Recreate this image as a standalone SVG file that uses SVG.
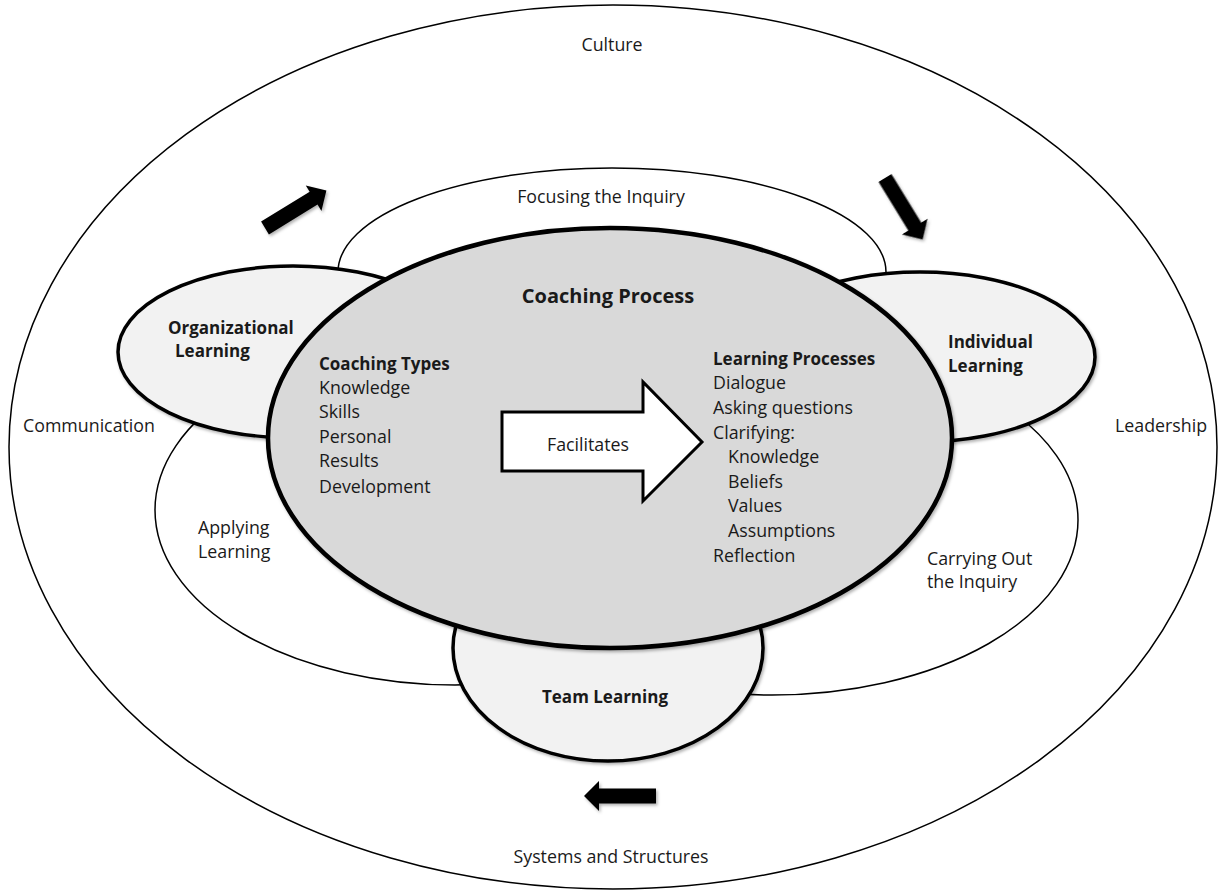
<svg xmlns="http://www.w3.org/2000/svg" width="1219" height="894" viewBox="0 0 1219 894">
  <style>
    .t { font-family: "Open Sans", "Liberation Sans", sans-serif; font-size: 17.8px; fill: #1a1a1a; }
    .b { font-weight: bold; font-size: 17px; }
    .c { text-anchor: middle; }
    .ring { fill: #ffffff; stroke: #000000; stroke-width: 1.5; }
    .lobe { fill: #f2f2f2; stroke: #000000; stroke-width: 3.5; }
    .core { fill: #d9d9d9; stroke: #000000; stroke-width: 4.5; }
    .flow { fill: #000000; }
  </style>
  <defs>
    <filter id="shadow" x="-10%" y="-10%" width="120%" height="120%">
      <feDropShadow dx="1.5" dy="2" stdDeviation="1.5" flood-color="#000000" flood-opacity="0.3"/>
    </filter>
    <path id="cycle-arrow" d="M0,-7.5 L57,-7.5 L57,-15 L72,0 L57,15 L57,7.5 L0,7.5 Z"/>
  </defs>

  <rect width="1219" height="894" fill="#ffffff"/>

  <!-- outer environment -->
  <g id="environment">
    <ellipse class="ring" cx="613" cy="447" rx="604" ry="442"/>
    <text class="t c" x="612" y="51">Culture</text>
    <text class="t" x="23" y="432">Communication</text>
    <text class="t" x="1115" y="432">Leadership</text>
    <text class="t c" x="611" y="863">Systems and Structures</text>
  </g>

  <!-- inquiry phases -->
  <g id="focusing">
    <ellipse class="ring" cx="612" cy="272" rx="274" ry="104"/>
    <text class="t c" x="601" y="203">Focusing the Inquiry</text>
  </g>
  <g id="applying">
    <ellipse class="ring" cx="455" cy="510" rx="300" ry="175"/>
    <text class="t" x="198" y="534">Applying</text>
    <text class="t" x="198" y="558">Learning</text>
  </g>
  <g id="carrying-out">
    <ellipse class="ring" cx="772" cy="520" rx="306" ry="175"/>
    <text class="t" x="927" y="565">Carrying Out</text>
    <text class="t" x="927" y="588">the Inquiry</text>
  </g>

  <!-- learning levels -->
  <g id="organizational-learning">
    <ellipse class="lobe" cx="293" cy="352" rx="175" ry="86" filter="url(#shadow)"/>
    <text class="t b" x="168" y="334">Organizational</text>
    <text class="t b" x="175" y="357">Learning</text>
  </g>
  <g id="individual-learning">
    <ellipse class="lobe" cx="920" cy="357" rx="175" ry="85" filter="url(#shadow)"/>
    <text class="t b" x="948" y="348">Individual</text>
    <text class="t b" x="948" y="372">Learning</text>
  </g>
  <g id="team-learning">
    <ellipse class="lobe" cx="608" cy="648" rx="155" ry="113" filter="url(#shadow)"/>
    <text class="t b c" x="605" y="703">Team Learning</text>
  </g>

  <!-- central coaching process -->
  <g id="coaching-process">
    <ellipse class="core" cx="610" cy="438" rx="342" ry="210" filter="url(#shadow)"/>
    <text class="t b c" x="608" y="303" style="font-size:20px">Coaching Process</text>
    <text class="t b" x="319" y="370">Coaching Types</text>
    <text class="t" x="319" y="394">Knowledge</text>
    <text class="t" x="319" y="418">Skills</text>
    <text class="t" x="319" y="443">Personal</text>
    <text class="t" x="319" y="467">Results</text>
    <text class="t" x="319" y="493">Development</text>
    <text class="t b" x="713" y="365">Learning Processes</text>
    <text class="t" x="713" y="389">Dialogue</text>
    <text class="t" x="713" y="414">Asking questions</text>
    <text class="t" x="713" y="439">Clarifying:</text>
    <text class="t" x="728" y="463">Knowledge</text>
    <text class="t" x="728" y="488">Beliefs</text>
    <text class="t" x="728" y="512">Values</text>
    <text class="t" x="728" y="537">Assumptions</text>
    <text class="t" x="713" y="562">Reflection</text>
  </g>

  <!-- facilitates block arrow -->
  <g id="facilitates">
    <path d="M502,412 L643,412 L643,382 L702,442 L643,501 L643,471 L502,471 Z" fill="#ffffff" stroke="#000000" stroke-width="3" stroke-linejoin="miter"/>
    <text class="t c" x="588" y="451">Facilitates</text>
  </g>

  <!-- cycle direction arrows -->
  <g id="connectors" filter="url(#shadow)">
    <use href="#cycle-arrow" class="flow" transform="translate(265,228) rotate(-31.5)"/>
    <use href="#cycle-arrow" class="flow" transform="translate(885,178) rotate(58.5)"/>
    <use href="#cycle-arrow" class="flow" transform="translate(656,796) rotate(180)"/>
  </g>
</svg>
